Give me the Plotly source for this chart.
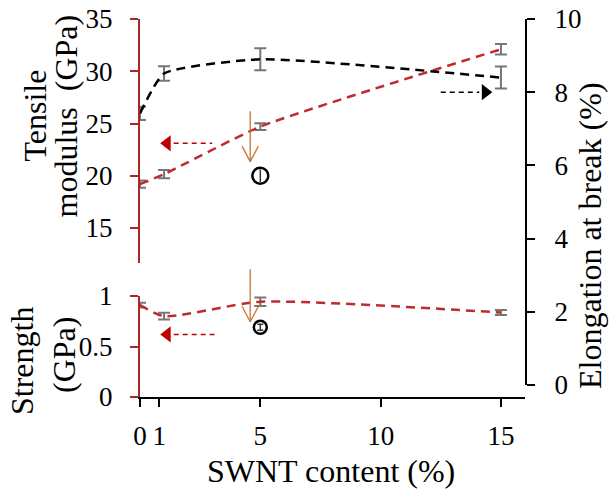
import plotly.graph_objects as go

# ---------------- data ----------------
swnt = [0, 1, 5, 15]
modulus = [19.2, 20.15, 24.7, 32.1]
modulus_err = [0.35, 0.4, 0.32, 0.5]
elongation = [7.42, 8.51, 8.90, 8.40]
elongation_err = [0.18, 0.2, 0.3, 0.3]
strength = [0.91, 0.80, 0.943, 0.836]
strength_err = [0.023, 0.033, 0.043, 0.025]

ref_x = [5]
ref_modulus = [20.0]
ref_modulus_err = [0.6]
ref_strength = [0.69]
ref_strength_err = [0.03]

x_tickvals = [0, 0.8, 5, 10, 15]
x_ticktext = ["0", "1", "5", "10", "15"]
mod_ticks = [15, 20, 25, 30, 35]
str_ticks = [0, 0.5, 1]
str_ticktext = ["0", "0.5", "1"]
elo_ticks = [0, 2, 4, 6, 8, 10]

# ---------------- style ----------------
FONT = "Times New Roman, Liberation Serif, serif"
RED = "#bf2a2e"
AXRED = "#a8282c"
ARROWRED = "#c00000"
GRAY = "#767676"
ORANGE = "#c8772e"
TICKSIZE = 27
TITLESIZE = 32

W, H = 610, 490
L, R, T, B = 140, 85, 19, 93
PW, PH = W - L - R, H - T - B


def px(xp):
    return (xp - L) / PW


def py(yp):
    return (H - B - yp) / PH


fig = go.Figure()

# error bars
fig.add_trace(go.Scatter(x=swnt, y=modulus, mode="markers", xaxis="x", yaxis="y",
                         marker=dict(size=1, color="rgba(0,0,0,0)"),
                         error_y=dict(type="data", array=modulus_err, color=GRAY, thickness=2, width=6),
                         showlegend=False, hoverinfo="skip"))
fig.add_trace(go.Scatter(x=swnt, y=elongation, mode="markers", xaxis="x", yaxis="y2",
                         marker=dict(size=1, color="rgba(0,0,0,0)"),
                         error_y=dict(type="data", array=elongation_err, color=GRAY, thickness=2, width=6),
                         showlegend=False, hoverinfo="skip"))
fig.add_trace(go.Scatter(x=swnt, y=strength, mode="markers", xaxis="x", yaxis="y3",
                         marker=dict(size=1, color="rgba(0,0,0,0)"),
                         error_y=dict(type="data", array=strength_err, color=GRAY, thickness=2, width=6),
                         showlegend=False, hoverinfo="skip"))

# curves
fig.add_trace(go.Scatter(x=swnt, y=modulus, mode="lines", xaxis="x", yaxis="y",
                         line=dict(color=RED, width=2.5, dash="9px,6px", shape="spline", smoothing=0.5),
                         showlegend=False))
fig.add_trace(go.Scatter(x=swnt, y=elongation, mode="lines", xaxis="x", yaxis="y2",
                         line=dict(color="black", width=2.5, dash="9px,6px", shape="spline", smoothing=0.5),
                         showlegend=False))
fig.add_trace(go.Scatter(x=swnt, y=strength, mode="lines", xaxis="x", yaxis="y3",
                         line=dict(color=RED, width=2.5, dash="9px,6px", shape="spline", smoothing=0.6),
                         showlegend=False))

# reference open circles
fig.add_trace(go.Scatter(x=ref_x, y=ref_modulus, mode="markers", xaxis="x", yaxis="y",
                         marker=dict(symbol="circle-open", size=16, color="black", line=dict(width=2.5)),
                         error_y=dict(type="data", array=ref_modulus_err, color="#333333", thickness=1.5, width=0),
                         showlegend=False))
fig.add_trace(go.Scatter(x=ref_x, y=ref_strength, mode="markers", xaxis="x", yaxis="y3",
                         marker=dict(symbol="circle-open", size=13, color="black", line=dict(width=2.5)),
                         error_y=dict(type="data", array=ref_strength_err, color="#333333", thickness=1.5, width=3),
                         showlegend=False))

# dashed pointer arrows (to the axis they belong to)
fig.add_trace(go.Scatter(x=[1.4, 3.0], y=[23.1, 23.1], mode="lines", xaxis="x", yaxis="y",
                         line=dict(color=ARROWRED, width=1.5, dash="5px,4px"), showlegend=False))
fig.add_trace(go.Scatter(x=[1.13], y=[23.1], mode="markers", xaxis="x", yaxis="y",
                         marker=dict(symbol="triangle-left", size=14, color=ARROWRED), showlegend=False))
fig.add_trace(go.Scatter(x=[1.4, 3.1], y=[0.62, 0.62], mode="lines", xaxis="x", yaxis="y3",
                         line=dict(color=ARROWRED, width=1.5, dash="5px,4px"), showlegend=False))
fig.add_trace(go.Scatter(x=[1.13], y=[0.62], mode="markers", xaxis="x", yaxis="y3",
                         marker=dict(symbol="triangle-left", size=14, color=ARROWRED), showlegend=False))
fig.add_trace(go.Scatter(x=[12.5, 14.1], y=[8.0, 8.0], mode="lines", xaxis="x", yaxis="y2",
                         line=dict(color="black", width=1.5, dash="5px,4px"), showlegend=False))
fig.add_trace(go.Scatter(x=[14.35], y=[8.0], mode="markers", xaxis="x", yaxis="y2",
                         marker=dict(symbol="triangle-right", size=14, color="black"), showlegend=False))

annotations = []
# orange arrows: shaft + thin open "V" head (pixel offsets from the tip)
for tip_y, yref, shaft_len in [(21.35, "y", 52), (0.745, "y3", 54)]:
    for ax, ay in [(0, -shaft_len), (-9, -17), (9, -17)]:
        annotations.append(dict(x=4.58, y=tip_y, xref="x", yref=yref, ax=ax, ay=ay,
                                showarrow=True, arrowhead=0, arrowwidth=1.3,
                                arrowcolor=ORANGE, text=""))

title_font = dict(family=FONT, size=TITLESIZE, color="black")
for txt, xp, yp in [("Tensile", 34, 115.5), ("modulus  (GPa)", 66, 116.5),
                    ("Strength", 22, 361), ("(GPa)", 64, 355)]:
    annotations.append(dict(text=txt, x=px(xp), y=py(yp), xref="paper", yref="paper",
                            xanchor="center", yanchor="middle", textangle=-90,
                            showarrow=False, font=title_font))
annotations.append(dict(text="Elongation at break (%)", x=px(590), y=py(236), xref="paper", yref="paper",
                        xanchor="center", yanchor="middle", textangle=-90,
                        showarrow=False, font=title_font))
annotations.append(dict(text="SWNT content (%)", x=px(331), y=py(471), xref="paper", yref="paper",
                        xanchor="center", yanchor="middle", showarrow=False, font=title_font))

tick_font = dict(family=FONT, size=TICKSIZE, color="black")

fig.update_layout(
    template="none",
    width=W, height=H,
    margin=dict(l=L, r=R, t=T, b=B, pad=0, autoexpand=False),
    paper_bgcolor="white", plot_bgcolor="rgba(0,0,0,0)",
    showlegend=False,
    annotations=annotations,
    xaxis=dict(domain=[0, 1], range=[0, 16], anchor="y3", automargin=False,
               tickvals=x_tickvals, ticktext=x_ticktext, tickfont=tick_font,
               showline=True, linecolor="black", linewidth=1.5,
               ticks="outside", ticklen=8, tickwidth=1.5, tickcolor="black",
               showgrid=False, zeroline=False, ticklabelstandoff=6),
    yaxis=dict(domain=[py(263), 1], range=[11.65, 35], anchor="x", automargin=False,
               tickvals=mod_ticks, tickfont=tick_font,
               showline=True, linecolor=AXRED, linewidth=2,
               ticks="outside", ticklen=8, tickwidth=1.5, tickcolor=AXRED,
               showgrid=False, zeroline=False, ticklabelstandoff=12),
    yaxis2=dict(domain=[py(385), 1], range=[0, 10], anchor="x", side="right", automargin=False,
                tickvals=elo_ticks, tickfont=tick_font,
                showline=True, linecolor="black", linewidth=2,
                ticks="outside", ticklen=8, tickwidth=1.5, tickcolor="black",
                showgrid=False, zeroline=False, ticklabelstandoff=14),
    yaxis3=dict(domain=[0, py(296)], range=[0, 1], anchor="x", automargin=False,
                tickvals=str_ticks, ticktext=str_ticktext, tickfont=tick_font,
                showline=True, linecolor=AXRED, linewidth=2,
                ticks="outside", ticklen=8, tickwidth=1.5, tickcolor=AXRED,
                showgrid=False, zeroline=False, ticklabelstandoff=12),
)

fig.write_html("out.html")
